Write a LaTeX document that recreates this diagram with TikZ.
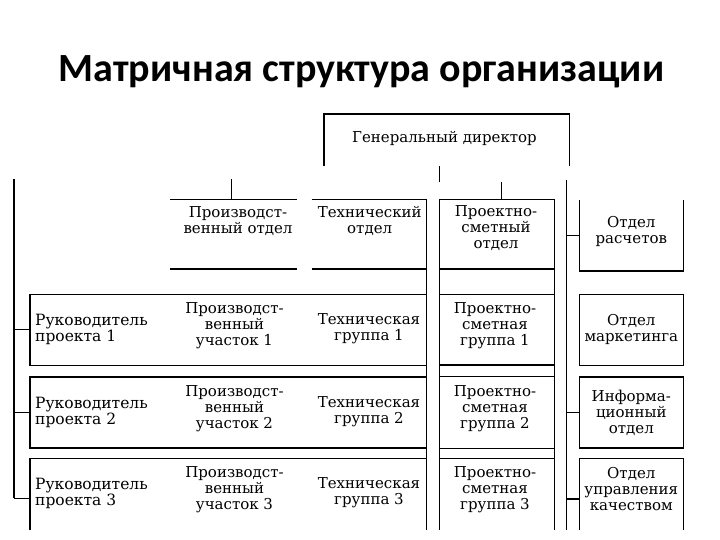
\documentclass[tikz,border=0pt]{standalone}
\usepackage{fontspec}
\setmainfont{DejaVu Serif}
\newfontfamily\titlefont{Carlito}
\usetikzlibrary{positioning}

\tikzset{
  orgline/.style={black, line width=1.1pt},
  celltext/.style={align=center, inner sep=0pt, font=\fontsize{15}{16}\selectfont},
  leadtext/.style={align=left, anchor=west, inner sep=0pt, font=\fontsize{15.5}{16}\selectfont},
  rowbox/.style={draw, line width=1.1pt, minimum width=396.7pt, minimum height=71pt, inner sep=0pt},
  sidebox/.style={draw, line width=1.1pt, minimum width=104pt, minimum height=71pt, inner sep=0pt, celltext},
}

\begin{document}
\begin{tikzpicture}[x=1pt, y=-1pt]

  % === Matrix structure: functional departments on top, projects as rows ===
  \useasboundingbox (0,0) rectangle (720,540);

  \def\rowL{30}      % left edge of project rows
  \def\techR{426.7}  % right edge of technical column
  \def\projL{439.3}  % project-estimate column
  \def\projR{554.3}
  \def\sideL{579.3}  % service departments on the right
  \def\sideR{683.3}
  \def\busL{14}      % left vertical bus
  \def\busR{566.5}   % right vertical bus
  \def\bottomY{530}

  % Title
  \node[font=\titlefont\bfseries\fontsize{40}{46}\selectfont, inner sep=0pt, anchor=base]
    (title) at (361.5,82) {Матричная структура организации};

  % General director (open at the bottom)
  \draw[orgline] (324,166.5) |- (569.5,114) -- (569.5,166.5);
  \node[celltext] (gendir) at (444.5,138) {Генеральный директор};

  % Production department (top and bottom rules only)
  \draw[orgline] (170,199.3) -- (296.7,199.3) (170,269) -- (296.7,269);
  % Technical department
  \draw[orgline] (311.7,199.3) -- (\techR,199.3) (311.7,269) -- (\techR,269);
  \draw[orgline] (\techR,199.3) -- (\techR,\bottomY);

  % Project-estimate column with its cells
  \draw[orgline] (\projL,199.3) -- (\projL,\bottomY) (\projR,199.3) -- (\projR,\bottomY);
  \foreach \y in {199.3,269,294.3,365,376.7,448.3,458.3}
    \draw[orgline] (\projL,\y) -- (\projR,\y);

  % Project rows
  \node[rowbox] (row1) at (228.35,329.65) {};
  \node[rowbox] (row2) at (228.35,412.5) {};
  \draw[orgline] (\rowL,\bottomY) |- (\techR,458.3);
  \coordinate (row3) at (\rowL,498.3);

  % Service departments
  \draw[orgline] (\sideL,200) |- (\sideR,271) -- (\sideR,200);
  \coordinate (calcdeptW) at (\sideL,235.7);
  \node[sidebox] (marketing) at (631.3,329.65) {Отдел\\маркетинга};
  \node[sidebox] (infodept) at (631.3,412.5) {Информа-\\ционный\\отдел};
  \draw[orgline] (\sideL,\bottomY) |- (\sideR,458.3) -- (\sideR,\bottomY);
  \coordinate (qualityW) at (\sideL,499);

  % Buses
  \coordinate (lbusTop) at (\busL,179);
  \coordinate (rbusTop) at (\busR,180);
  \draw[orgline] (lbusTop) -- (lbusTop |- row3);
  \draw[orgline] (rbusTop) -- (\busR,\bottomY);
  \draw[orgline] (lbusTop |- row1.west) -- (row1.west);
  \draw[orgline] (lbusTop |- row2.west) -- (row2.west);
  \draw[orgline] (lbusTop |- row3) -- (row3);
  \draw[orgline] (rbusTop |- calcdeptW) -- (calcdeptW);
  \draw[orgline] (rbusTop |- infodept.west) -- (infodept.west);
  \draw[orgline] (rbusTop |- qualityW) -- (qualityW);

  % Short feeds above the departments
  \coordinate (prodTop) at (231.3,199.3);
  \coordinate (projTop) at (501.7,199.3);
  \coordinate (gendirStub) at (\projL,166.5);
  \draw[orgline] (prodTop) -- ++(0,-20.3);
  \draw[orgline] (projTop) -- ++(0,-17.3);
  \draw[orgline] (gendirStub) -- ++(0,15.2);

  % Department labels
  \node[celltext] (proddept) at (238,221) {Производст-\\венный отдел};
  \node[celltext] (techdept) at (369.7,221) {Технический\\отдел};
  \node[celltext] (projdept) at (496,228) {Проектно-\\сметный\\отдел};
  \node[celltext] (calcdept) at (631.3,231) {Отдел\\расчетов};
  \node[celltext] (quality) at (631.3,489) {Отдел\\управления\\качеством};

  % Row labels
  \foreach \n/\y in {1/329, 2/412, 3/493} {
    \node[leadtext] (lead\n) at (35,\y) {Руководитель\\проекта \n};
    \node[celltext] (prod\n) at (234.5,\y-3) {Производст-\\венный\\участок \n};
    \node[celltext] (tech\n) at (369,\y) {Техническая\\группа \n};
    \node[celltext] (proj\n) at (495,\y-3) {Проектно-\\сметная\\группа \n};
  }

\end{tikzpicture}
\end{document}
